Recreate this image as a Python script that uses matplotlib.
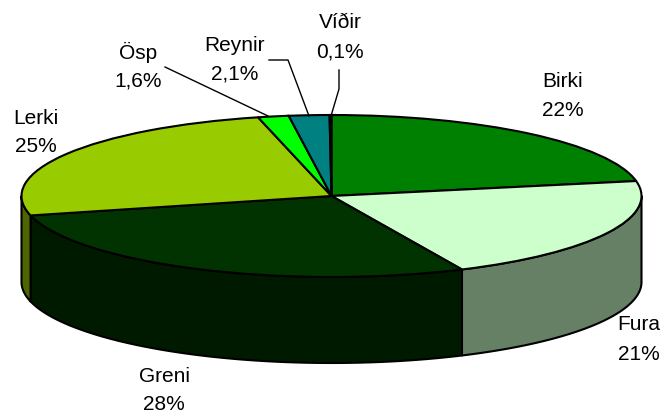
import matplotlib
matplotlib.use('Agg')
import matplotlib.pyplot as plt
import numpy as np

plt.rcParams['font.family'] = ['Liberation Sans', 'DejaVu Sans']

# data
categories = ['Birki', 'Fura', 'Greni', 'Lerki', 'Ösp', 'Reynir', 'Víðir']
values = [22, 21, 28, 25, 1.6, 2.1, 0.1]
value_labels = ['22%', '21%', '28%', '25%', '1,6%', '2,1%', '0,1%']

top_colors = ['#008000', '#CCFFCC', '#003300', '#99CC00', '#00FF00', '#008080', '#008000']
side_colors = ['#004000', '#668066', '#001A00', '#4D6600', '#008000', '#004040', '#004000']

# label centres in pixels (x, y first line, y second line)
label_pos = [(563, 81, 110), (639, 325, 354), (164, 376, 405), (36, 118, 146),
             (138, 52, 81), (235, 45, 74), (340, 22, 52)]

# leader lines in pixels
leaders = [([165, 268], [67, 116]),
           ([269, 288, 309], [60, 60, 116]),
           ([339, 339, 331], [70, 89, 116])]

W, H = 664, 417
cx, cy = 331.5, 196      # centre of pie top
rx, ry = 310, 81         # ellipse radii
depth = 86 / ry

fig = plt.figure(figsize=(W / 100, H / 100), dpi=100)
ax = fig.add_axes([0, 0, 1, 1])
ax.axis('off')

# side walls, only the front half of the cylinder shows
fracs = np.cumsum([0] + values) / sum(values)
for i in range(len(values)):
    a1 = 90 - 360 * fracs[i]
    a2 = 90 - 360 * fracs[i + 1]
    a1c = min(a1, 0)
    a2c = max(a2, -180)
    if a1c <= a2c:
        continue
    t = np.radians(np.linspace(a1c, a2c, 100))
    xs = np.r_[np.cos(t), np.cos(t[::-1])]
    ys = np.r_[np.sin(t), np.sin(t[::-1]) - depth]
    ax.fill(xs, ys, facecolor=side_colors[i], edgecolor='black', linewidth=1.5, joinstyle='round')

# top of pie
ax.pie(values, colors=top_colors, startangle=90, counterclock=False, radius=1,
       wedgeprops={'edgecolor': 'black', 'linewidth': 1.5})
ax.set_aspect('auto')
ax.set_xlim(-cx / rx, (W - cx) / rx)
ax.set_ylim((cy - H) / ry, cy / ry)

# overlay in pixel coords for labels and leaders
ov = fig.add_axes([0, 0, 1, 1])
ov.set_xlim(0, W)
ov.set_ylim(H, 0)
ov.axis('off')
ov.patch.set_alpha(0)

for xs, ys in leaders:
    ov.plot(xs, ys, color='black', linewidth=1.0)

for name, val, (x, y1, y2) in zip(categories, value_labels, label_pos):
    ov.text(x, y1, name, ha='center', va='center', fontsize=15, color='black')
    ov.text(x, y2, val, ha='center', va='center', fontsize=15, color='black')

fig.savefig('out.png', dpi=100)
